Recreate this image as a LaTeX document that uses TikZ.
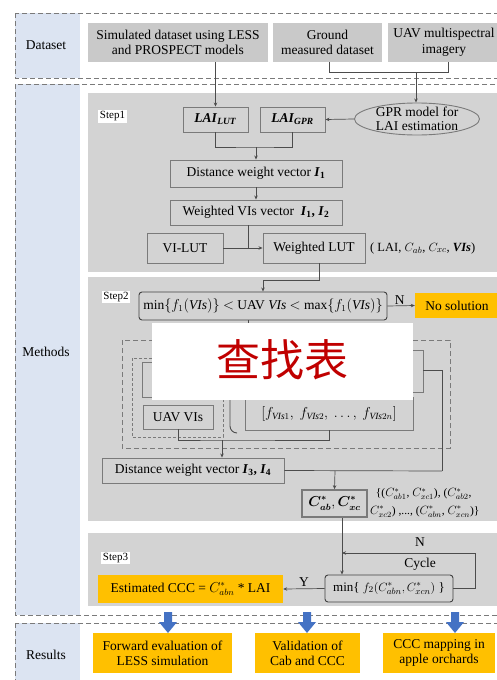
\documentclass[tikz,border=0pt]{standalone}
\usepackage{amsmath}
\usepackage{fontspec}
\setmainfont{Liberation Serif}
\newfontfamily\cjk{Noto Sans CJK SC}
\usetikzlibrary{arrows.meta,shapes.geometric,calc}
\definecolor{panelgray}{HTML}{D3D3D3}
\definecolor{boxgray}{HTML}{C9C9C9}
\definecolor{edgegray}{HTML}{7A7A7A}
\definecolor{sideblue}{HTML}{DCE4F2}
\definecolor{orng}{HTML}{FFC000}
\definecolor{arrblue}{HTML}{4472C4}
\definecolor{redtxt}{HTML}{C00000}
\tikzset{
  every node/.style={font=\fontsize{13.5}{15}\selectfont, inner sep=1pt},
  dbox/.style={fill=boxgray, draw=none, align=center, font=\fontsize{13.5}{15.5}\selectfont},
  sbox/.style={fill=panelgray, draw=edgegray, line width=0.9pt, align=center},
  rbox/.style={fill=panelgray, draw=black!75, line width=0.9pt, rounded corners=3pt, align=center, inner sep=0pt},
  obox/.style={fill=orng, draw=none, align=center, inner sep=0pt},
  steplbl/.style={fill=white, font=\fontsize{11}{12}\selectfont, inner sep=1.5pt},
  conn/.style={draw=black!70, line width=0.7pt},
  arr/.style={conn, -{Stealth[length=4pt,width=3.5pt]}},
  dashbox/.style={draw=edgegray, dashed, dash pattern=on 5pt off 3pt, line width=0.9pt},
  blkarrow/.style={fill=arrblue, draw=none},
}
\newcommand{\Cst}[1]{C^{*}_{#1}}
\begin{document}
\begin{tikzpicture}[x=1pt,y=-1pt]
\useasboundingbox (0,0) rectangle (497,680);
\clip (0,0) rectangle (497,680);
% ---------- section frames ----------
\fill[sideblue] (15,13) rectangle (80,78);
\fill[sideblue] (15,84) rectangle (80,615);
\fill[sideblue] (15,623) rectangle (80,690);
\draw[dashbox] (15,13) rectangle (520,78);
\draw[dashbox] (15,84) rectangle (520,615);
\draw[dashbox] (15,623) rectangle (520,700);
\node (lblD) at (46,45) {Dataset};
\node (lblM) at (46,352) {Methods};
\node (lblR) at (46,655) {Results};
% ---------- step panels ----------
\fill[panelgray] (88,93) rectangle (520,272);
\fill[panelgray] (88,277) rectangle (520,521);
\fill[panelgray] (88,533) rectangle (520,606);
\node[steplbl] (st1) at (112.5,116.5) {Step1};
\node[steplbl] (st2) at (116,297) {Step2};
\node[steplbl] (st3) at (115.5,558) {Step3};
% ---------- dataset ----------
\node[dbox, minimum width=180pt, minimum height=39pt] (sim) at (178,42.5) {Simulated dataset using LESS\\and PROSPECT models};
\node[dbox, minimum width=109pt, minimum height=39pt] (gnd) at (327.5,42.5) {Ground\\measured dataset};
\node[dbox, minimum width=112pt, minimum height=39pt] (uav) at (444,42.5) {UAV multispectral\\imagery};
% ---------- step1 ----------
\node[sbox, minimum width=65pt, minimum height=25pt] (lailut) at (215.5,119.5) {\textbf{\textit{LAI}}\textsubscript{\textbf{\textit{LUT}}}};
\node[sbox, minimum width=65pt, minimum height=25pt] (laigpr) at (292.5,119.5) {\textbf{\textit{LAI}}\textsubscript{\textbf{\textit{GPR}}}};
\node[ellipse, fill=panelgray, draw=edgegray, line width=0.9pt, minimum width=125pt, minimum height=32pt, inner sep=0pt] (gpr) at (417,119) {};
\node[align=center, font=\fontsize{13.5}{14}\selectfont] (gprtxt) at (gpr.center) {GPR model for\\LAI estimation};
\node[sbox, minimum width=172pt, minimum height=27pt] (dist1) at (256,173.5) {Distance weight vector \textbf{\textit{I}}\textsubscript{\textbf{1}}};
\node[sbox, minimum width=172pt, minimum height=25pt] (wvi) at (256,212.5) {Weighted VIs vector \ \textbf{\textit{I}}\textsubscript{\textbf{1}}\textbf{,} \textbf{\textit{I}}\textsubscript{\textbf{2}}};
\node[sbox, minimum width=76pt, minimum height=30pt] (vilut) at (185,248) {VI-LUT};
\node[sbox, minimum width=102pt, minimum height=30pt] (wlut) at (314,248) {Weighted LUT};
\node[anchor=west, font=\fontsize{12.5}{14}\selectfont] (lutlbl) at (369,248) {( LAI, $C_{ab}$, $C_{xc}$, \textbf{\textit{VIs}})};
% connectors dataset -> step1
\coordinate (jg) at (329,72);
\coordinate (ju) at (448,72);
\coordinate (jm) at (416,72);
\draw[arr] (sim.south -| lailut.north) -- (lailut.north);
\draw[conn] (gnd.south -| jg) -- (jg) -- (ju) -- (uav.south -| ju);
\draw[arr] (jm) -- (gpr.north -| jm);
\draw[arr] (gpr.west) -- (laigpr.east);
\coordinate (j1) at (256,147);
\draw[conn] (lailut.south) |- (j1) -| (laigpr.south);
\draw[arr] (j1) -- (dist1.north);
\draw[arr] (dist1.south) -- (wvi.north);
\coordinate (j2) at (248,248);
\draw[conn] (wvi.south -| j2) -- (j2);
\draw[arr] (vilut.east) -- (wlut.west);
% ---------- step2 ----------
\node[rbox, minimum width=248pt, minimum height=28pt] (min1) at (263,306) {min$\{f_1(\textit{VIs})\}$ $<$ UAV \textit{VIs} $<$ max$\{f_1(\textit{VIs})\}$};
\node[obox, minimum width=84pt, minimum height=25pt] (nosol) at (457,305.5) {No solution};
\draw[arr] (min1.east) -- node[above, pos=0.45, inner sep=1pt] (nlbl) {N} (nosol.west);
\coordinate (j3a) at (319,280);
\coordinate (j3b) at (263,280);
\draw[conn] (wlut.south -| j3a) -- (j3a) -- (j3b);
\draw[arr] (j3b) -- (min1.north);
\draw[conn] (min1.south -| j2) -- ++(0,10);
\draw[dashbox] (122,340) rectangle (450,448);
\draw[dashbox, dash pattern=on 3pt off 2pt] (132,358) rectangle (223,437);
\node[sbox, minimum width=73pt, minimum height=35pt] (hidA) at (178.5,379.5) {};
\node[sbox, minimum width=178pt, minimum height=42pt] (hidB) at (334,371) {};
\node[sbox, minimum width=70pt, minimum height=24pt] (uavvis) at (178,417) {UAV VIs};
\node[sbox, minimum width=168pt, minimum height=33pt, inner sep=0pt] (fbox) at (329,413.5) {$[f_{\mathit{VIs}1},\ f_{\mathit{VIs}2},\ \dots,\ f_{\mathit{VIs}2n}]$};
\draw[conn, line width=0.9pt] (230,330) -- (230,426) to[out=-90,in=180] (237,433);
\coordinate (jr) at (442,370);
\coordinate (jrb) at (442,471);
\draw[conn] (hidB.east |- jr) -- (jr) -- (jrb);
\coordinate (j4) at (222,440);
\draw[conn] (uavvis.south) |- (j4) -| (fbox.south);
\node[sbox, minimum width=182pt, minimum height=25pt] (dist2) at (193,470.5) {Distance weight vector \textbf{\textit{I}}\textsubscript{\textbf{3}}\textbf{,}\ \textbf{\textit{I}}\textsubscript{\textbf{4}}};
\draw[arr] (j4) -- (dist2.north -| j4);
\node[sbox, minimum width=65pt, minimum height=27pt, line width=1.6pt, inner sep=0pt] (cbox) at (334.5,503.5) {$\boldsymbol{\Cst{ab}},\boldsymbol{\Cst{xc}}$};
\coordinate (j5) at (335,471);
\draw[conn] (dist2.east) -- (jrb);
\draw[arr] (j5) -- (cbox.north);
\node[anchor=west, align=left, font=\fontsize{11.5}{17.5}\selectfont] (clbl) at (369,503) {\ \ \{($\Cst{ab1}$, $\Cst{xc1}$), ($\Cst{ab2}$,\\$\Cst{xc2}$) ,..., ($\Cst{abn}$, $\Cst{xcn}$)\}};
% ---------- overlay ----------
\node[fill=white, minimum width=261pt, minimum height=77pt, inner sep=0pt] (ovl) at (282.5,361.5) {};
\node[text=redtxt, font=\cjk\fontsize{44}{46}\selectfont] (ovltxt) at (282,360) {查找表};
% ---------- step3 ----------
\node[rbox, minimum width=128pt, minimum height=27pt, font=\fontsize{13}{14}\selectfont] (min2) at (389,588.5) {min\{ $f_2(\Cst{abn},\Cst{xcn})$ \}};
\node[obox, minimum width=185pt, minimum height=28pt] (est) at (190.5,589) {Estimated CCC = $\Cst{abn}$ * LAI};
\coordinate (j6) at (342,553);
\coordinate (jc1) at (475,588.5);
\coordinate (jc2) at (475,553);
\draw[arr] (cbox.south -| j6) -- (min2.north -| j6);
\draw[conn] (min2.east) -- (jc1) -- (jc2);
\draw[arr] (jc2) -- (j6);
\node (nlbl2) at (420,542) {N};
\node (cyc) at (420,564) {Cycle};
\draw[arr] (min2.west) -- node[above, inner sep=2pt] (ylbl) {Y} (est.east);
% ---------- results ----------
\node[obox, minimum width=139pt, minimum height=40pt] (r1) at (162.5,653) {Forward evaluation of\\LESS simulation};
\node[obox, minimum width=105pt, minimum height=40pt] (r2) at (307.5,653) {Validation of\\Cab and CCC};
\node[obox, minimum width=112pt, minimum height=40pt] (r3) at (439,653) {CCC mapping in\\apple orchards};
\foreach \xx/\nm in {168/r1,307/r2,455/r3}{
  \fill[blkarrow] (\xx-4,612) -- (\xx+4,612) -- (\xx+4,622) -- (\xx+9,622) -- (\xx,633) -- (\xx-9,622) -- (\xx-4,622) -- cycle;
}
\end{tikzpicture}
\end{document}
